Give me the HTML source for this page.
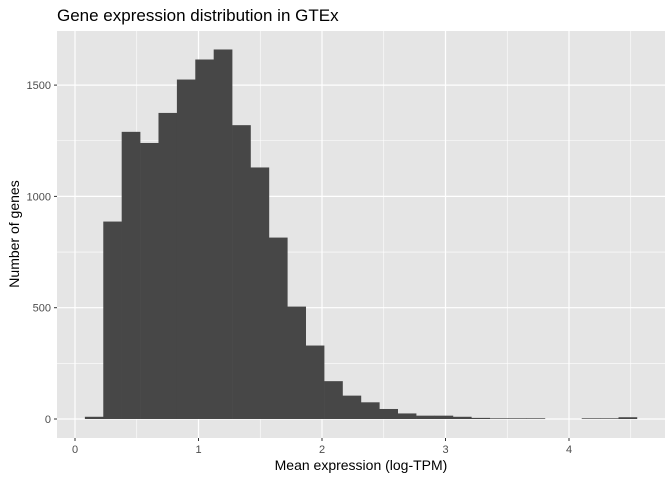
<!DOCTYPE html>
<html><head><meta charset="utf-8"><style>
body{margin:0;background:#fff;font-family:"Liberation Sans",sans-serif}
</style></head><body>
<svg id="chart" width="672" height="480" xmlns="http://www.w3.org/2000/svg">
<text x="57" y="21" font-size="17" fill="#000">Gene expression distribution in GTEx</text>
<rect x="57" y="31" width="608" height="407" fill="#e5e5e5"/>
<g id="grid"></g><g id="bars"></g><g id="axes"></g>
<text x="361" y="470" font-size="14" text-anchor="middle">Mean expression (log-TPM)</text>
<text transform="translate(19,234) rotate(-90)" font-size="14" text-anchor="middle">Number of genes</text>
</svg>
<script>
const binStart = 0.08;
const binWidth = 0.149;
const counts = [10,887,1290,1240,1375,1525,1615,1660,1320,1130,815,505,330,170,105,75,45,25,15,15,10,5,3,3,3,0,0,3,3,8];
const xTicks = [0,1,2,3,4];
const yTicks = [0,500,1000,1500];
const NS="http://www.w3.org/2000/svg";
const X=v=>75+v*123.5, Y=v=>419-v*0.2226;
function mk(t,a,p){const e=document.createElementNS(NS,t);for(const k in a)e.setAttribute(k,a[k]);document.getElementById(p).appendChild(e);return e;}
for(let v=0;v<=4.5;v+=0.5){const l=mk('line',{x1:X(v),x2:X(v),y1:31,y2:438,stroke:'#fff','stroke-width':v%1?0.6:1.2},'grid');

}
for(let v=-250;v<=1750;v+=250){const y=Y(v);if(y<31||y>438)continue;const l=mk('line',{x1:57,x2:665,y1:y,y2:y,stroke:'#fff','stroke-width':v%500?0.6:1.2},'grid');

}
counts.forEach((c,i)=>{const x0=X(binStart+i*binWidth),x1=X(binStart+(i+1)*binWidth);
const r=mk('rect',{x:x0,y:Y(c),width:x1-x0+0.3,height:Y(0)-Y(c),fill:'#474747'},'bars');

});
xTicks.forEach(v=>{mk('line',{x1:X(v),x2:X(v),y1:438,y2:441,stroke:'#333'},'axes');
const t=mk('text',{x:X(v),y:453,'font-size':11,fill:'#4d4d4d','text-anchor':'middle'},'axes');t.textContent=v;

});
yTicks.forEach(v=>{mk('line',{x1:54,x2:57,y1:Y(v),y2:Y(v),stroke:'#333'},'axes');
const t=mk('text',{x:51,y:Y(v)+4,'font-size':11,fill:'#4d4d4d','text-anchor':'end'},'axes');t.textContent=v;

});
</script>
</body></html>
